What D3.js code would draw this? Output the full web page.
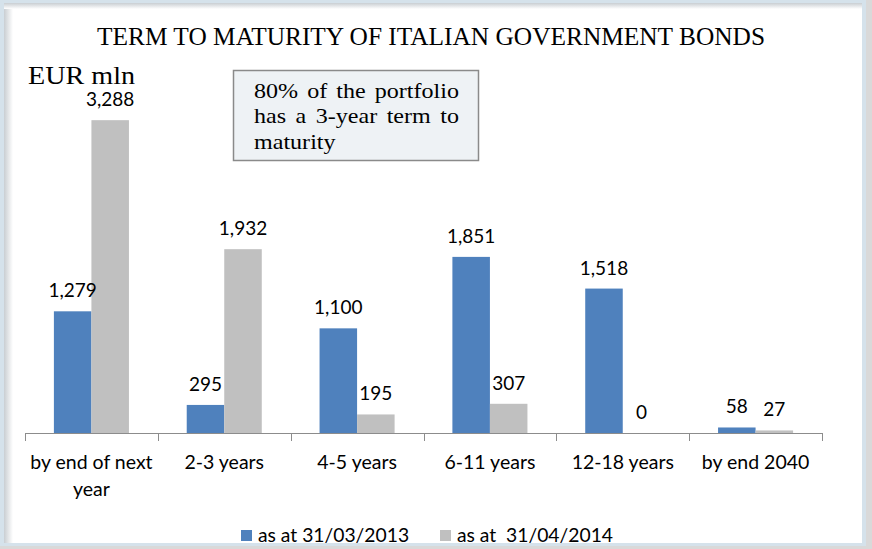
<!DOCTYPE html>
<html><head><meta charset="utf-8">
<script src="https://cdn.jsdelivr.net/npm/d3@7"></script>
<style>html,body{margin:0;padding:0;background:#fff;}svg{display:block;}</style>
</head><body>
<svg id="c" width="872" height="549"></svg>
<script>
const categories = ["by end of next year","2-3 years","4-5 years","6-11 years","12-18 years","by end 2040"];
const series2013 = [1279, 295, 1100, 1851, 1518, 58];
const series2014 = [3288, 1932, 195, 307, 0, 27];
const seriesNames = ["as at 31/03/2013","as at  31/04/2014"];
const seriesColors = ["#4f81bd","#c0c0c0"];
const title = "TERM TO MATURITY OF ITALIAN GOVERNMENT BONDS";
const unitLabel = "EUR mln";
const noteLines = ["80% of the portfolio","has a 3-year term to","maturity"];

const svg = d3.select("#c");
// frame
const defs = svg.append("defs");
const gl = defs.append("linearGradient").attr("id","gl").attr("x1",0).attr("x2",1).attr("y1",0).attr("y2",0);
gl.append("stop").attr("offset",0).attr("stop-color","#c9ced2");
gl.append("stop").attr("offset",1).attr("stop-color","#ffffff");
const gt = defs.append("linearGradient").attr("id","gt").attr("x1",0).attr("x2",0).attr("y1",0).attr("y2",1);
gt.append("stop").attr("offset",0).attr("stop-color","#c9ced2");
gt.append("stop").attr("offset",1).attr("stop-color","#ffffff");
svg.append("rect").attr("x",0).attr("y",0).attr("width",872).attr("height",549).attr("fill","#d5e2eb");
svg.append("rect").attr("x",866).attr("y",0).attr("width",6).attr("height",549).attr("fill","#d9d9d9");
svg.append("rect").attr("x",0).attr("y",546).attr("width",872).attr("height",3).attr("fill","#d9d9d9");
svg.append("rect").attr("x",4).attr("y",3).attr("width",858).attr("height",540).attr("fill","#fff");
svg.append("rect").attr("x",4).attr("y",3).attr("width",9).attr("height",540).attr("fill","url(#gl)");
svg.append("rect").attr("x",4).attr("y",3).attr("width",858).attr("height",6).attr("fill","url(#gt)");

const x0 = d3.scaleBand().domain(categories).range([25,822]).paddingInner(0).paddingOuter(0);
const x1 = d3.scaleBand().domain([0,1]).range([0, x0.bandwidth()]).paddingInner(0).paddingOuter(0.77);
const y = d3.scaleLinear().domain([0,3500]).range([433,100]);

const sans = "Lato, 'Open Sans', sans-serif";
const serif = "'Liberation Serif', 'DejaVu Serif', serif";

// title
svg.append("text").attr("x",431).attr("y",45).attr("text-anchor","middle")
  .attr("font-family",serif).attr("font-size",26).attr("fill","#000")
  .attr("textLength",668).attr("lengthAdjust","spacingAndGlyphs").text(title);
svg.append("text").attr("x",28).attr("y",84)
  .attr("font-family",serif).attr("font-size",26).attr("fill","#000")
  .attr("textLength",107).attr("lengthAdjust","spacingAndGlyphs").text(unitLabel);

const data = categories.map((c,i)=>({c, vals:[series2013[i], series2014[i]]}));
const g = svg.append("g");
const groups = g.selectAll("g.grp").data(data).join("g").attr("transform",d=>`translate(${x0(d.c)},0)`);
groups.selectAll("rect").data(d=>d.vals.map((v,k)=>({v,k}))).join("rect")
  .attr("x",d=>x1(d.k)).attr("width",x1.bandwidth())
  .attr("y",d=>y(d.v)).attr("height",d=>y(0)-y(d.v)).attr("fill",d=>seriesColors[d.k]);
groups.selectAll("text.val").data(d=>d.vals.map((v,k)=>({v,k}))).join("text").attr("class","val")
  .attr("x",d=>x1(d.k)+x1.bandwidth()/2).attr("y",d=>y(d.v)-14)
  .attr("text-anchor","middle").attr("font-family",sans).attr("font-size",19).attr("fill","#000")
  .text(d=>d3.format(",")(d.v));

// axis
const ax = svg.append("g");
ax.append("line").attr("x1",25).attr("x2",822).attr("y1",433.5).attr("y2",433.5).attr("stroke","#8c8c8c").attr("stroke-width",1);
const ticks = categories.map(c=>x0(c)).concat([822]);
ax.selectAll("line.t").data(ticks).join("line").attr("class","t")
  .attr("x1",d=>Math.round(d)+0.5).attr("x2",d=>Math.round(d)+0.5).attr("y1",433).attr("y2",441).attr("stroke","#8c8c8c");
const labelLines = c => c==="by end of next year" ? ["by end of next","year"] : [c];
ax.selectAll("text.cat").data(categories).join("text").attr("class","cat")
  .attr("x",d=>x0(d)+x0.bandwidth()/2).attr("y",469).attr("text-anchor","middle")
  .attr("font-family",sans).attr("font-size",19.5).attr("fill","#000")
  .each(function(d){
    const t=d3.select(this);
    labelLines(d).forEach((l,i)=>t.append("tspan").attr("x",x0(d)+x0.bandwidth()/2).attr("dy",i?27:0).text(l));
  });

// annotation box
svg.append("rect").attr("x",233.5).attr("y",70.5).attr("width",245).attr("height",90)
  .attr("fill","#eef2f5").attr("stroke","#8a8a8a").attr("stroke-width",1.5);
const sx = 1.12;
const note = svg.append("g").attr("font-family",serif).attr("font-size",21.5).attr("fill","#000")
  .attr("transform",`translate(254,0) scale(${sx},1)`);
noteLines.forEach((l,i)=>{
  const words = l.split(" ");
  const t = note.append("text").attr("x",0).attr("y",98+i*25.5).text(l);
  if(i<noteLines.length-1){
    const w = t.node().getComputedTextLength();
    const target = (459-254)/sx;
    t.attr("word-spacing",(target-w)/(words.length-1));
  }
});

// legend
const leg = svg.append("g").attr("font-family",sans).attr("font-size",19.3).attr("fill","#000");
const legX = [241,440];
seriesNames.forEach((n,i)=>{
  leg.append("rect").attr("x",legX[i]).attr("y",530).attr("width",11).attr("height",11).attr("fill",seriesColors[i]);
  leg.append("text").attr("x",legX[i]+17).attr("y",542).attr("xml:space","preserve").style("white-space","pre").text(n);
});
</script>
</body></html>
